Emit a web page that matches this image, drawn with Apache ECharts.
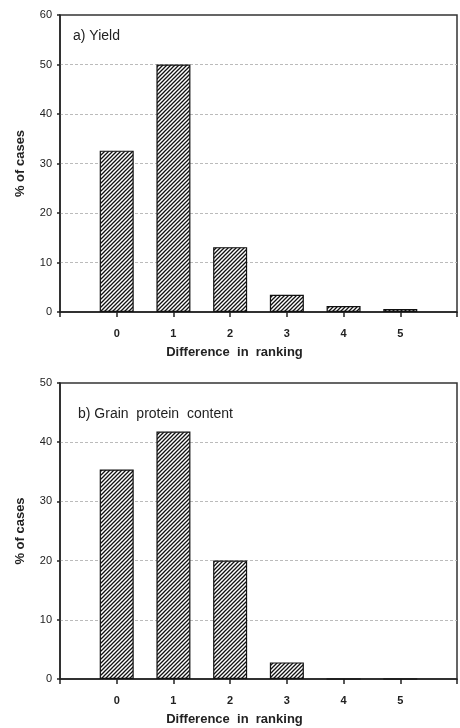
<!DOCTYPE html>
<html>
<head>
<meta charset="utf-8">
<script src="https://cdn.jsdelivr.net/npm/echarts@6/dist/echarts.min.js"></script>
<style>
html,body{margin:0;padding:0;background:#fff;}
#c{width:460px;height:728px;}
</style>
</head>
<body>
<div id="c"></div>
<script>
const categories = [0, 1, 2, 3, 4, 5];
const yieldValues = [32.6, 50, 13.1, 3.5, 1.2, 0.6];
const proteinValues = [35.4, 41.8, 20, 2.8, 0, 0];
const titleA = 'a) Yield';
const titleB = 'b) Grain  protein  content';
const xName = 'Difference  in  ranking';
const yName = '% of cases';

const FONT = 'Liberation Sans, Arial, sans-serif';

// hatch pattern
const pc = document.createElement('canvas');
pc.width = 4; pc.height = 4;
const g = pc.getContext('2d');
g.fillStyle = '#fff'; g.fillRect(0, 0, 4, 4);
g.strokeStyle = '#111'; g.lineWidth = 1.3;
g.beginPath();
g.moveTo(0, 4); g.lineTo(4, 0);
g.moveTo(-1, 1); g.lineTo(1, -1);
g.moveTo(3, 5); g.lineTo(5, 3);
g.stroke();

const chart = echarts.init(document.getElementById('c'), null, {renderer: 'canvas'});

function xAxis(gi) {
  return {
    type: 'value', gridIndex: gi, min: -1, max: 6, interval: 1,
    name: xName, nameLocation: 'middle', nameGap: 34,
    nameTextStyle: {fontFamily: FONT, fontSize: 13, fontWeight: 'bold', color: '#222', padding: [0, 48, 0, 0]},
    axisLine: {show: true, onZero: false, lineStyle: {color: '#222', width: 1.5}},
    axisTick: {show: true, length: 5, lineStyle: {color: '#222', width: 1.5}},
    axisLabel: {fontFamily: FONT, fontSize: 11, fontWeight: 'bold', color: '#222', margin: 16,
      formatter: v => categories.indexOf(v) >= 0 ? String(v) : ''},
    splitLine: {show: false}
  };
}
function yAxis(gi, max) {
  return {
    type: 'value', gridIndex: gi, min: 0, max: max, interval: 10,
    name: yName, nameLocation: 'middle', nameGap: 33, nameRotate: 90,
    nameTextStyle: {fontFamily: FONT, fontSize: 13, fontWeight: 'bold', color: '#222'},
    axisLine: {show: true, onZero: false, lineStyle: {color: '#222', width: 1.5}},
    axisTick: {show: true, length: 3, lineStyle: {color: '#222', width: 1.5}},
    axisLabel: {fontFamily: FONT, fontSize: 11, color: '#222', margin: 8},
    splitLine: {show: true, showMinLine: false, showMaxLine: false, lineStyle: {color: '#bbb', type: [3, 2], width: 1}}
  };
}
function barSeries(gi, vals) {
  return {
    type: 'bar', xAxisIndex: gi, yAxisIndex: gi, barWidth: 34,
    data: categories.map((c, i) => [c, vals[i]]),
    itemStyle: {color: {image: pc, repeat: 'repeat'}, borderColor: '#111', borderWidth: 1.2},
    emphasis: {disabled: true}
  };
}

chart.setOption({
  animation: false,
  title: [
    {text: titleA, left: 73, top: 29, padding: 0, textStyle: {fontFamily: FONT, fontSize: 14, fontWeight: 'normal', color: '#222'}},
    {text: titleB, left: 78, top: 407, padding: 0, textStyle: {fontFamily: FONT, fontSize: 14, fontWeight: 'normal', color: '#222'}}
  ],
  grid: [
    {left: 60, top: 15, width: 398, height: 297, show: true, borderColor: '#333', borderWidth: 1.5, backgroundColor: 'transparent'},
    {left: 60, top: 383, width: 398, height: 296, show: true, borderColor: '#333', borderWidth: 1.5, backgroundColor: 'transparent'}
  ],
  xAxis: [xAxis(0), xAxis(1)],
  yAxis: [yAxis(0, 60), yAxis(1, 50)],
  series: [barSeries(0, yieldValues), barSeries(1, proteinValues)]
});
</script>
</body>
</html>
